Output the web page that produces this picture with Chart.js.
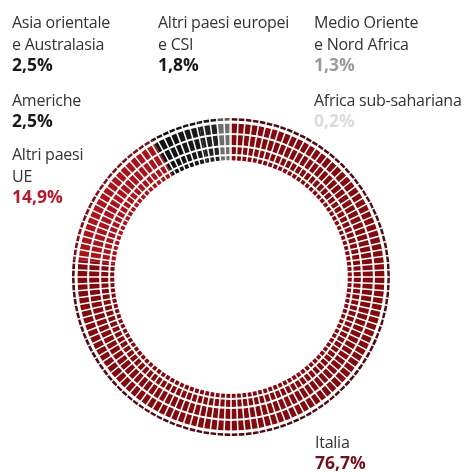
<!DOCTYPE html>
<html>
<head>
<meta charset="utf-8">
<script src="https://cdn.jsdelivr.net/npm/chart.js@4/dist/chart.umd.min.js"></script>
<style>
  html, body { margin: 0; padding: 0; background: #fff; }
  #wrap { position: relative; width: 467px; height: 472px; overflow: hidden; }
  #ring { position: absolute; left: 0; top: 0; }
  .t { position: absolute; white-space: nowrap; font-family: "Open Sans", sans-serif;
       font-size: 16px; line-height: 20px; color: #333; letter-spacing: -0.25px; }
  .p { font-weight: bold; font-size: 17.5px; letter-spacing: 0; }
</style>
</head>
<body>
<div id="wrap">
  <canvas id="ring" width="467" height="472"></canvas>
</div>
<script>
// categories, clockwise from 12 o'clock
const categories = [
  "Italia",
  "Altri paesi UE",
  "Americhe",
  "Asia orientale e Australasia",
  "Altri paesi europei e CSI",
  "Medio Oriente e Nord Africa",
  "Africa sub-sahariana",
];
const shares = [76.7, 14.9, 2.5, 2.5, 1.8, 1.3, 0.2];
const shareLabels = ["76,7%", "14,9%", "2,5%", "2,5%", "1,8%", "1,3%", "0,2%"];

const colors = ["#820a0e", "#a8141b", "#121212", "#161616", "#222222", "#6f6f6f", "#b9b9b9"];
const outerColors = ["#4e0a12", "#7a1018", "#111111", "#111111", "#1a1a1a", "#5a5a5a", "#aaaaaa"];

// text blocks: lines of name, then the percentage
const labelBlocks = [
  { idx: 3, lines: ["Asia orientale", "e Australasia"], x: 12, base: 28, pColor: "#1a1a1a" },
  { idx: 4, lines: ["Altri paesi europei", "e CSI"], x: 158, base: 28, pColor: "#1a1a1a" },
  { idx: 5, lines: ["Medio Oriente", "e Nord Africa"], x: 314, base: 28, pColor: "#9a9a9a" },
  { idx: 2, lines: ["Americhe"], x: 12, base: 106, pColor: "#1a1a1a" },
  { idx: 6, lines: ["Africa sub-sahariana"], x: 314, base: 106, pColor: "#dcdcdc" },
  { idx: 1, lines: ["Altri paesi", "UE"], x: 12, base: 160, pColor: "#b3192a" },
  { idx: 0, lines: ["Italia"], x: 315, base: 448, pColor: "#74101b" },
];

const wrap = document.getElementById("wrap");
labelBlocks.forEach((b) => {
  let base = b.base;
  b.lines.forEach((ln) => {
    const d = document.createElement("div");
    d.className = "t";
    d.textContent = ln;
    d.style.left = b.x + "px";
    d.style.top = (base - 16.2) + "px";
    wrap.appendChild(d);
    base += 22;
  });
  const p = document.createElement("div");
  p.className = "t p";
  p.textContent = shareLabels[b.idx];
  p.style.color = b.pColor;
  p.style.left = b.x + "px";
  p.style.top = (base - 1 - 16.8) + "px";
  wrap.appendChild(p);
});

// white gaps between the rings and radial cuts into blocks
const blockPlugin = {
  id: "blocks",
  afterDatasetsDraw(chart) {
    const ctx = chart.ctx;
    const n = chart.data.datasets.length;
    const first = chart.getDatasetMeta(0).data[0];
    const last = chart.getDatasetMeta(n - 1).data[0];
    const cx = first.x, cy = first.y;
    const outerR = first.outerRadius, innerR = last.innerRadius;
    ctx.save();
    ctx.strokeStyle = "#fff";
    for (let i = 0; i < n - 1; i++) {
      const r = chart.getDatasetMeta(i).data[0].innerRadius;
      ctx.lineWidth = i === 0 ? 3 : 2;
      ctx.beginPath();
      ctx.arc(cx, cy, r, 0, Math.PI * 2);
      ctx.stroke();
    }
    const cuts = 140;
    ctx.lineWidth = 1.5;
    for (let k = 0; k < cuts; k++) {
      const a = -Math.PI / 2 + (k * Math.PI * 2) / cuts;
      ctx.beginPath();
      ctx.moveTo(cx + Math.cos(a) * (innerR - 1), cy + Math.sin(a) * (innerR - 1));
      ctx.lineTo(cx + Math.cos(a) * (outerR + 1), cy + Math.sin(a) * (outerR + 1));
      ctx.stroke();
    }
    ctx.restore();
  },
};

const ringWeights = [4, 12, 12, 9, 5];

new Chart(document.getElementById("ring").getContext("2d"), {
  type: "doughnut",
  data: {
    labels: categories,
    datasets: ringWeights.map((w, i) => ({
      data: shares,
      backgroundColor: i === 0 ? outerColors : colors,
      borderWidth: 0,
      weight: w,
    })),
  },
  options: {
    responsive: false,
    animation: false,
    cutout: "73.5%",
    layout: { padding: { left: 72, right: 77, top: 118, bottom: 36 } },
    plugins: {
      legend: { display: false },
      tooltip: { enabled: false },
    },
  },
  plugins: [blockPlugin],
});
</script>
</body>
</html>
